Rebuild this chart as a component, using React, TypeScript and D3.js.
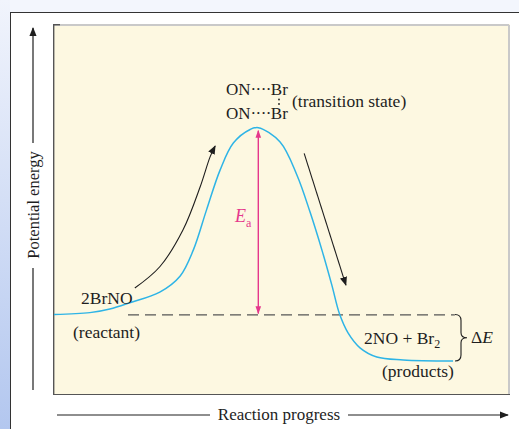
import React from "react";
import * as d3 from "d3";

// Reaction coordinate (0-100) and potential energy (arbitrary units 0-100)
const curveProgress = [0, 7.9, 12.3, 16.7, 23.3, 27.8, 30.7, 33.6, 36.6, 39.5, 43.2, 45.0, 49.8, 53.5, 56.4, 59.0, 61.2, 62.9, 64.8, 67.4, 71.1, 76.9, 87.9];
const curveEnergy = [21.4, 21.9, 22.9, 24.6, 27.5, 31.9, 39.0, 49.9, 60.8, 68.1, 71.8, 72.3, 68.4, 59.4, 49.3, 39.0, 29.4, 21.5, 16.3, 12.3, 9.8, 9.0, 8.7];

const reactantEnergy = 21.4;
const productEnergy = 8.7;
const peakEnergy = 72.3;
const peakProgress = 45.0;
const dashedRange = [16.3, 88.3];

const upArrowProgress = [17.8, 23.3, 28.4, 32.2, 34.4, 35.5];
const upArrowEnergy = [28.6, 34.4, 44.4, 56.2, 64.4, 67.3];
const downArrowProgress = [55.1, 64.3];
const downArrowEnergy = [65.3, 29.4];

const W = 519;
const H = 429;
const FONT = "'Liberation Serif', 'DejaVu Serif', serif";
const CYAN = "#2eb4e6";
const PINK = "#e5388c";
const INK = "#1e1e1e";
const FS = 17.5;

export default function App() {
  const x = d3.scaleLinear().domain([0, 100]).range([54, 508]);
  const y = d3.scaleLinear().domain([0, 100]).range([393, 26]);

  const curvePts: [number, number][] = curveProgress.map((p, i) => [x(p), y(curveEnergy[i])]);
  const line = d3.line().curve(d3.curveCatmullRom.alpha(0.5));
  const curvePath = line(curvePts) || "";

  const upPts: [number, number][] = upArrowProgress.map((p, i) => [x(p), y(upArrowEnergy[i])]);
  const upPath = d3.line().curve(d3.curveCatmullRom.alpha(0.5))(upPts) || "";
  const downPts: [number, number][] = downArrowProgress.map((p, i) => [x(p), y(downArrowEnergy[i])]);
  const downPath = d3.line()(downPts) || "";

  const yR = y(reactantEnergy);
  const yP = y(productEnergy);
  const yTop = y(peakEnergy);
  const xPk = x(peakProgress);

  const bx = 455;
  const bm = (yR + yP) / 2;
  const brace = `M${bx},${yR} Q${bx + 6},${yR} ${bx + 6},${yR + 6} L${bx + 6},${bm - 5} Q${bx + 6},${bm} ${bx + 12},${bm} Q${bx + 6},${bm} ${bx + 6},${bm + 5} L${bx + 6},${yP - 6} Q${bx + 6},${yP} ${bx},${yP}`;

  return (
    <svg width={W} height={H} style={{ position: "absolute", left: 0, top: 0 }} fontFamily={FONT}>
      <defs>
        <linearGradient id="side" x1="0" y1="0" x2="0" y2="1">
          <stop offset="0" stopColor="#f1f4fc" />
          <stop offset="1" stopColor="#b3c7ef" />
        </linearGradient>
        <marker id="ah" viewBox="0 0 10 10" refX="9" refY="5" markerWidth="9" markerHeight="9" markerUnits="userSpaceOnUse" orient="auto">
          <path d="M0,1 L10,5 L0,9 Z" fill={INK} />
        </marker>
        <marker id="ahp" viewBox="0 0 10 10" refX="9" refY="5" markerWidth="8" markerHeight="8" markerUnits="userSpaceOnUse" orient="auto-start-reverse">
          <path d="M0,1.5 L10,5 L0,8.5 Z" fill={PINK} />
        </marker>
      </defs>
      <rect x={0} y={0} width={W} height={H} fill="#f3f6fd" />
      <rect x={0} y={0} width={10} height={H} fill="url(#side)" />
      <rect x={10.5} y={12.5} width={W} height={H} fill="#ffffff" stroke="#333" strokeWidth={1} />

      {/* plot panel */}
      <rect x={53} y={24} width={457} height={371} fill="#fdf8e1" />
      <line x1={54} y1={25} x2={509} y2={25} stroke="#c9c9c9" strokeWidth={2} />
      <line x1={509} y1={25} x2={509} y2={394} stroke="#c9c9c9" strokeWidth={2} />
      <line x1={53.7} y1={24} x2={53.7} y2={395} stroke="#555" strokeWidth={1.4} />
      <line x1={53} y1={394.5} x2={510} y2={394.5} stroke="#555" strokeWidth={1.2} />
      <line x1={53} y1={24.7} x2={60} y2={24.7} stroke="#555" strokeWidth={1.4} />

      {/* y axis arrow */}
      <line x1={33} y1={390} x2={33} y2={268} stroke={INK} strokeWidth={1.2} />
      <line x1={33} y1={143} x2={33} y2={28} stroke={INK} strokeWidth={1.2} markerEnd="url(#ah)" />
      <text transform="translate(38.5,205) rotate(-90)" textAnchor="middle" fontSize={16.5} fill={INK}>Potential energy</text>

      {/* x axis arrow */}
      <line x1={57} y1={415} x2={210} y2={415} stroke={INK} strokeWidth={1.2} />
      <line x1={348} y1={415} x2={508} y2={415} stroke={INK} strokeWidth={1.2} markerEnd="url(#ah)" />
      <text x={279} y={420} textAnchor="middle" fontSize={17} fill={INK}>Reaction progress</text>

      {/* dashed reactant level */}
      <line x1={x(dashedRange[0])} y1={yR + 0.5} x2={x(dashedRange[1])} y2={yR + 0.5} stroke="#555" strokeWidth={1.3} strokeDasharray="11 6" />

      {/* energy curve */}
      <path d={curvePath} fill="none" stroke={CYAN} strokeWidth={1.5} />

      {/* Ea arrow */}
      <line x1={xPk} y1={yR - 1} x2={xPk} y2={yTop + 3} stroke={PINK} strokeWidth={1.4} markerStart="url(#ahp)" markerEnd="url(#ahp)" />
      <text x={235} y={222} fontSize={18} fill={PINK} fontStyle="italic">E</text>
      <text x={246} y={227} fontSize={12} fill={PINK} fontStyle="normal">a</text>

      {/* direction arrows */}
      <path d={upPath} fill="none" stroke={INK} strokeWidth={1.1} markerEnd="url(#ah)" />
      <path d={downPath} fill="none" stroke={INK} strokeWidth={1.1} markerEnd="url(#ah)" />

      {/* transition state */}
      <text x={226} y={95} fontSize={17} fill={INK}>ON<tspan letterSpacing={-0.6}>····</tspan>Br</text>
      <text x={226} y={119} fontSize={17} fill={INK}>ON<tspan letterSpacing={-0.6}>····</tspan>Br</text>
      <circle cx={279} cy={99.5} r={0.9} fill={INK} />
      <circle cx={279} cy={104} r={0.9} fill={INK} />
      <text x={292} y={107} fontSize={FS} fill={INK}>(transition state)</text>

      {/* labels */}
      <text x={81} y={304} fontSize={FS} fill={INK}>2BrNO</text>
      <text x={73} y={338} fontSize={FS} fill={INK}>(reactant)</text>
      <text x={364} y={344} fontSize={FS} fill={INK}>
        2NO + Br<tspan fontSize={12} dy={4}>2</tspan>
      </text>
      <text x={382} y={377} fontSize={FS} fill={INK}>(products)</text>
      <path d={brace} fill="none" stroke={INK} strokeWidth={1.1} />
      <text x={471} y={343} fontSize={FS} fill={INK}>
        Δ<tspan fontStyle="italic">E</tspan>
      </text>
    </svg>
  );
}
